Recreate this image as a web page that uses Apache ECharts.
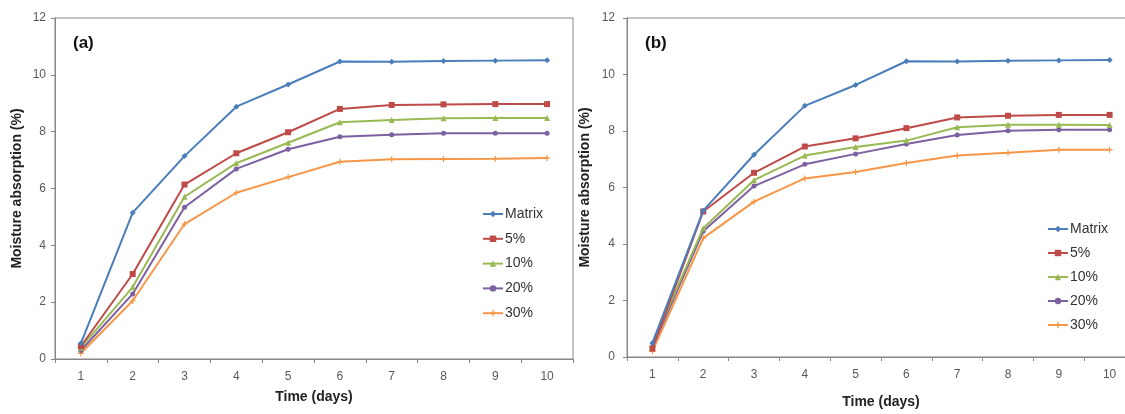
<!DOCTYPE html>
<html>
<head>
<meta charset="utf-8">
<script src="https://cdn.jsdelivr.net/npm/echarts@6/dist/echarts.min.js"></script>
<style>
html,body{margin:0;padding:0;background:#fff;overflow:hidden;width:1125px;height:414px;}
#c{width:1145px;height:414px;}
</style>
</head>
<body>
<div id="c"></div>
<script>
const days = ['1','2','3','4','5','6','7','8','9','10'];
const seriesNames = ['Matrix','5%','10%','20%','30%'];
const yTicks = [0,2,4,6,8,10,12];

// Panel (a)
const aMatrix = [0.55, 5.15, 7.14, 8.88, 9.66, 10.47, 10.46, 10.49, 10.50, 10.51];
const a5      = [0.45, 2.99, 6.14, 7.24, 7.98, 8.80, 8.94, 8.96, 8.97, 8.97];
const a10     = [0.40, 2.53, 5.71, 6.89, 7.61, 8.33, 8.41, 8.47, 8.48, 8.48];
const a20     = [0.30, 2.29, 5.34, 6.69, 7.38, 7.82, 7.89, 7.94, 7.94, 7.94];
const a30     = [0.20, 2.05, 4.75, 5.85, 6.40, 6.94, 7.03, 7.04, 7.05, 7.07];

// Panel (b)
const bMatrix = [0.50, 5.18, 7.16, 8.89, 9.63, 10.47, 10.46, 10.49, 10.50, 10.51];
const b5      = [0.30, 5.15, 6.52, 7.45, 7.74, 8.10, 8.48, 8.54, 8.57, 8.57];
const b10     = [0.45, 4.56, 6.26, 7.13, 7.43, 7.66, 8.13, 8.22, 8.22, 8.21];
const b20     = [0.35, 4.45, 6.05, 6.82, 7.19, 7.54, 7.86, 8.01, 8.04, 8.04];
const b30     = [0.20, 4.21, 5.50, 6.32, 6.55, 6.87, 7.13, 7.23, 7.34, 7.34];

const colors = ['#4A7EBB','#BE4B48','#98B954','#7D60A0','#F79646'];
const symbols = ['diamond','rect','triangle','circle','path://M4,0h2v4h4v2h-4v4h-2v-4h-4v-2h4z'];
const symSizes = [6,6,6,5,6];

const axisColor = '#868686';
const labelColor = '#595959';
const fontFam = '"Liberation Sans", Arial, sans-serif';

function mkX(idx, gap){
  return {
    type:'category', gridIndex:idx, data:days, boundaryGap:true,
    axisLine:{lineStyle:{color:axisColor,width:1}},
    axisTick:{show:true,length:4,lineStyle:{color:axisColor}},
    axisLabel:{color:labelColor,fontSize:12,fontFamily:fontFam,margin:12},
    name:'Time (days)', nameLocation:'middle', nameGap:gap,
    nameTextStyle:{color:'#222',fontSize:14,fontWeight:'bold',fontFamily:fontFam}
  };
}
function mkY(idx, gap, lm){
  return {
    type:'value', gridIndex:idx, min:0, max:12, interval:2,
    axisLine:{show:true,lineStyle:{color:axisColor,width:1}},
    axisTick:{show:true,length:4,lineStyle:{color:axisColor}},
    splitLine:{show:false},
    axisLabel:{color:labelColor,fontSize:12,fontFamily:fontFam,margin:lm,
      formatter:function(v){return yTicks.indexOf(v)>=0?String(v):'';}},
    name:'Moisture absorption (%)', nameLocation:'middle', nameGap:gap,
    nameTextStyle:{color:'#222',fontSize:14,fontWeight:'bold',fontFamily:fontFam}
  };
}
function mkSeries(dataArr, idx){
  return dataArr.map(function(d,i){
    return {
      name:seriesNames[i], type:'line', xAxisIndex:idx, yAxisIndex:idx,
      data:d, symbol:symbols[i], symbolSize:symSizes[i], showAllSymbol:true,
      color:colors[i],
      lineStyle:{color:colors[i],width:2},
      itemStyle:{color:colors[i]},
      emphasis:{disabled:true}, animation:false, z: 10-i
    };
  });
}

const chart = echarts.init(document.getElementById('c'), null, {renderer:'canvas'});
chart.setOption({
  backgroundColor:'#fff',
  animation:false,
  grid:[
    {left:55, top:18, width:518, height:341, show:true, borderColor:axisColor, borderWidth:1, backgroundColor:'transparent'},
    {left:627, top:18, width:508, height:342, show:true, borderColor:axisColor, borderWidth:1, backgroundColor:'transparent'}
  ],
  xAxis:[mkX(0,31), mkX(1,38)],
  yAxis:[mkY(0,31,9), mkY(1,35,12)],
  legend:[
    {data:seriesNames.map(function(n,i){return {name:n};}), orient:'vertical', left:477, top:202,
     itemWidth:20, itemHeight:8, itemGap:10.8, selectedMode:false,
     textStyle:{color:'#333',fontSize:14,fontFamily:fontFam,padding:[0,0,0,-3]}},
    {data:seriesNames.map(function(n,i){return {name:n};}), orient:'vertical', left:1042, top:217,
     itemWidth:20, itemHeight:8, itemGap:10, selectedMode:false,
     textStyle:{color:'#333',fontSize:14,fontFamily:fontFam,padding:[0,0,0,-3]}}
  ],
  graphic:[
    {type:'text', left:73, top:35, style:{text:'(a)', fill:'#111', font:'bold 17px "Liberation Sans", Arial, sans-serif'}},
    {type:'text', left:645, top:35, style:{text:'(b)', fill:'#111', font:'bold 17px "Liberation Sans", Arial, sans-serif'}}
  ],
  series: mkSeries([aMatrix,a5,a10,a20,a30],0).concat(mkSeries([bMatrix,b5,b10,b20,b30],1))
});
</script>
</body>
</html>
